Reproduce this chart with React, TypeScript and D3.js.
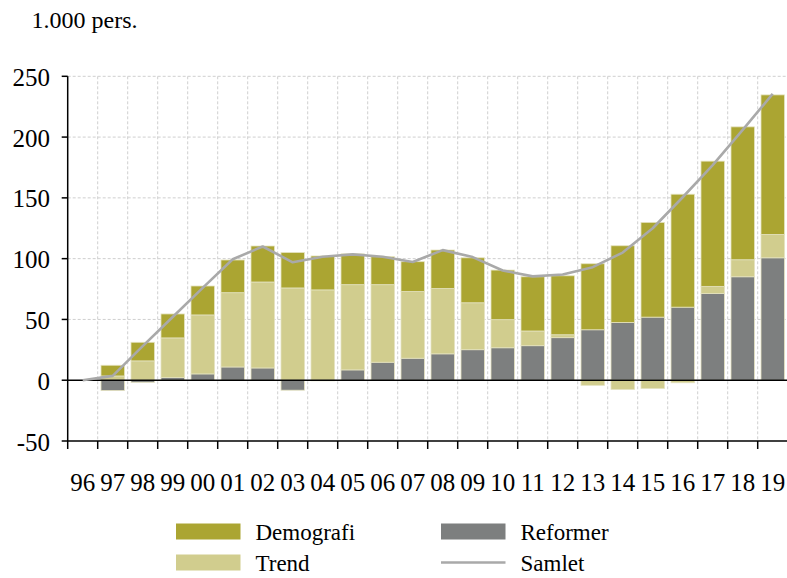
import React from "react";
import * as d3 from "d3";

const years = ["96","97","98","99","00","01","02","03","04","05","06","07","08","09","10","11","12","13","14","15","16","17","18","19"];
const reformer = [0,-8.5,-1.7,2.2,5.2,10.9,10.1,-8.2,-0.5,8.5,14.8,18.1,21.7,25.1,26.7,28.4,35,41.5,47.5,51.9,60.1,71.4,85.1,100.7];
const trend = [0,3.5,15.9,32.6,48.5,61.1,70.7,75.9,74.3,70.1,63.8,54.8,53.7,38.6,23.1,12.1,2.4,-4.2,-7.6,-6.8,-2.1,5.8,14,19.2];
const demografi = [0,8.8,15.3,19.7,23.8,26.9,29.6,29.1,27.9,25.3,23,24.6,31.7,37,40.8,44.6,48.5,54.3,63.1,77.9,92.9,103,109.3,114.8];
const samlet = [0,3.6,28,52,76,99.5,110,97,101.5,103.5,101.5,97.3,107,101.3,90.3,85.4,87,93,105,125,150.5,177,206,235.5];
const yTicks = [-50,0,50,100,150,200,250];

const seriesKeys = ["Reformer","Trend","Demografi"];
const colors: Record<string,string> = { Demografi: "#aba532", Trend: "#d1cd8e", Reformer: "#7d7f7f" };
const lineColor = "#a9a9a9";

export default function App() {
  const W = 787, H = 578;
  const left = 67.7, right = 787.7, top = 76.3, bottom = 441;
  const x = d3.scaleBand<string>().domain(years).range([left, right]).paddingInner(0.22).paddingOuter(0.11);
  const y = d3.scaleLinear().domain([-50, 250]).range([bottom, top]);
  const rows = years.map((yr, i) => ({ yr, Reformer: reformer[i], Trend: trend[i], Demografi: demografi[i] }));
  const stack = d3.stack<any>().keys(seriesKeys).offset(d3.stackOffsetDiverging);
  const stacked = stack(rows);
  const step = x.step();
  const bounds = years.map((yr) => (x(yr) as number) - x.paddingInner() * step / 2);
  bounds.push(right);
  const line = d3.line<number>()
    .x((_, i) => (x(years[i]) as number) + x.bandwidth() / 2)
    .y((v) => y(v))
    .curve(d3.curveLinear);
  const font = "'Liberation Serif', 'Times New Roman', serif";
  const legend = [
    { label: "Demografi", type: "rect", color: colors.Demografi, x: 176, y: 523.5 },
    { label: "Trend", type: "rect", color: colors.Trend, x: 176, y: 554.5 },
    { label: "Reformer", type: "rect", color: colors.Reformer, x: 441, y: 523.5 },
    { label: "Samlet", type: "line", color: lineColor, x: 441, y: 554.5 },
  ];
  return (
    <svg width={W} height={H} style={{ position: "absolute", left: 0, top: 0, background: "#fff" }} fontFamily={font}>
      <text x={31.5} y={27.5} fontSize={24} fill="#000">1.000 pers.</text>
      {yTicks.filter((t) => t > 0).map((t) => (
        <line key={"h" + t} x1={left} x2={right} y1={y(t)} y2={y(t)} stroke="#cfcfcf" strokeWidth={1} strokeDasharray="3,2" />
      ))}
      {bounds.slice(1, -1).map((b, i) => (
        <line key={"v" + i} x1={b} x2={b} y1={top} y2={bottom} stroke="#cfcfcf" strokeWidth={1} strokeDasharray="3,2" />
      ))}
      {stacked.map((s) => (
        <g key={s.key} fill={colors[s.key]}>
          {s.map((d, i) => {
            const y0 = y(d[0]), y1 = y(d[1]);
            const h = Math.abs(y0 - y1);
            if (h < 0.01) return null;
            return (
              <rect key={i} x={x(years[i])} width={x.bandwidth()} y={Math.min(y0, y1)} height={h}
                stroke="#e4e2bf" strokeWidth={0.8} />
            );
          })}
        </g>
      ))}
      <line x1={left} x2={right} y1={y(0)} y2={y(0)} stroke="#000" strokeWidth={1.5} />
      <path d={line(samlet) || ""} fill="none" stroke={lineColor} strokeWidth={2.6} strokeLinejoin="round" />
      <line x1={left} x2={left} y1={top} y2={bottom} stroke="#000" strokeWidth={1.5} />
      {yTicks.map((t) => (
        <g key={"yt" + t}>
          <line x1={left - 6} x2={left} y1={y(t)} y2={y(t)} stroke="#000" strokeWidth={1.5} />
          <text x={50} y={y(t) + 9.5} textAnchor="end" fontSize={25} fill="#000">{t}</text>
        </g>
      ))}
      <line x1={left} x2={right} y1={bottom} y2={bottom} stroke="#000" strokeWidth={1.5} />
      {bounds.slice(0, -1).map((b, i) => (
        <line key={"xt" + i} x1={b} x2={b} y1={bottom} y2={bottom + 8} stroke="#000" strokeWidth={1.5} />
      ))}
      {years.map((yr) => (
        <text key={"xl" + yr} x={(x(yr) as number) + x.bandwidth() / 2} y={490.5} textAnchor="middle" fontSize={25} fill="#000">{yr}</text>
      ))}
      {legend.map((l) => (
        <g key={l.label}>
          {l.type === "rect" ? (
            <rect x={l.x} y={l.y} width={64.5} height={16} fill={l.color} />
          ) : (
            <line x1={l.x} x2={l.x + 64.5} y1={l.y + 8} y2={l.y + 8} stroke={l.color} strokeWidth={2.6} />
          )}
          <text x={l.x + 79.5} y={l.y + 16.5} fontSize={23} fill="#000">{l.label}</text>
        </g>
      ))}
    </svg>
  );
}
